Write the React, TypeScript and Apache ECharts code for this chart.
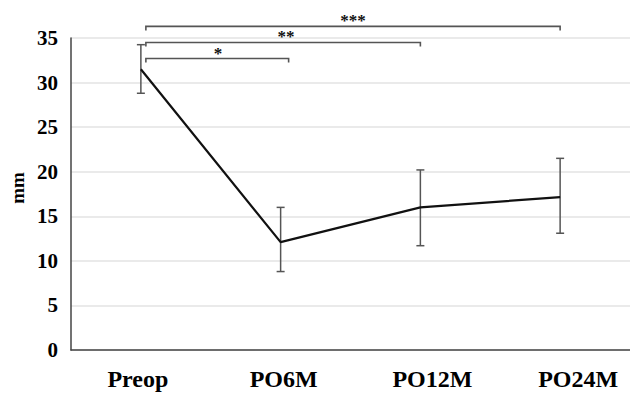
import React, { useEffect, useRef } from "react";
import * as echarts from "echarts";

const categories = ["Preop", "PO6M", "PO12M", "PO24M"];
const means = [31.5, 12.1, 16.0, 17.15];
const lowers = [28.8, 8.8, 11.7, 13.1];
const uppers = [34.25, 16.0, 20.2, 21.5];
const yTicks = [0, 5, 10, 15, 20, 25, 30, 35];
const bracketFrom = [0, 0, 0];
const bracketTo = [1, 2, 3];
const bracketLevels = [32.7, 34.5, 36.3];
const bracketLabels = ["*", "**", "***"];
const yAxisTitle = "mm";

const SERIF = "'Liberation Serif', 'DejaVu Serif', serif";
const labelShift = [-3, 3, 12, 18];

export default function App() {
  const ref = useRef<HTMLDivElement>(null);
  useEffect(() => {
    if (!ref.current) return;
    const chart = echarts.init(ref.current, null, { renderer: "svg" });
    const errData = categories.map((_, i) => [i, lowers[i], uppers[i]]);
    const bracketData = bracketLevels.map((lv, i) => [bracketFrom[i], bracketTo[i], lv, i]);
    const rich: any = {};
    labelShift.forEach((s, i) => {
      rich["c" + i] = {
        fontFamily: SERIF,
        fontWeight: "bold",
        fontSize: 24,
        color: "#000",
        padding: s >= 0 ? [0, 0, 0, 2 * s] : [0, -2 * s, 0, 0],
      };
    });
    chart.setOption({
      animation: false,
      backgroundColor: "#ffffff",
      grid: { left: 71, top: 38, bottom: 43, width: 568, containLabel: false },
      graphic: [
        {
          type: "text",
          x: 17,
          y: 188,
          rotation: Math.PI / 2,
          style: {
            text: yAxisTitle,
            fill: "#000",
            font: `bold 19px ${SERIF}`,
            align: "center",
            verticalAlign: "middle",
          },
        },
      ],
      xAxis: {
        type: "category",
        data: categories,
        boundaryGap: true,
        axisLine: { show: true, lineStyle: { color: "#444", width: 1.5 } },
        axisTick: { show: false },
        axisLabel: {
          interval: 0,
          hideOverlap: false,
          color: "#000",
          fontFamily: SERIF,
          fontWeight: "bold",
          fontSize: 24,
          margin: 17,
          formatter: (v: string, i: number) => `{c${i}|${v}}`,
          rich,
        },
        splitLine: { show: false },
      },
      yAxis: {
        type: "value",
        min: 0,
        max: 35,
        interval: 5,
        axisLine: { show: true, lineStyle: { color: "#444", width: 1.5 } },
        axisTick: { show: false },
        axisLabel: {
          color: "#000",
          fontFamily: SERIF,
          fontWeight: "bold",
          fontSize: 21,
          margin: 13,
          formatter: (v: number) => (yTicks.includes(v) ? String(v) : ""),
        },
        splitLine: { show: true, lineStyle: { color: "#e3e3e3", width: 1.5 } },
      },
      series: [
        {
          type: "line",
          data: means,
          symbol: "none",
          lineStyle: { color: "#111", width: 2.2 },
          z: 3,
        },
        {
          type: "custom",
          data: errData,
          clip: false,
          z: 2,
          renderItem: (params: any, api: any) => {
            const x = api.value(0);
            const lo = api.coord([x, api.value(1)]);
            const hi = api.coord([x, api.value(2)]);
            const cap = 4;
            const style = { stroke: "#555", lineWidth: 1.5 };
            return {
              type: "group",
              children: [
                { type: "line", shape: { x1: lo[0], y1: lo[1], x2: hi[0], y2: hi[1] }, style },
                { type: "line", shape: { x1: lo[0] - cap, y1: lo[1], x2: lo[0] + cap, y2: lo[1] }, style },
                { type: "line", shape: { x1: hi[0] - cap, y1: hi[1], x2: hi[0] + cap, y2: hi[1] }, style },
              ],
            };
          },
        },
        {
          type: "custom",
          data: bracketData,
          clip: false,
          z: 4,
          renderItem: (params: any, api: any) => {
            const i = api.value(3);
            const a = api.coord([api.value(0), api.value(2)]);
            const b = api.coord([api.value(1), api.value(2)]);
            const x1 = a[0] + 5;
            const x2 = b[0] + (i === 0 ? 8 : 0);
            const y = a[1];
            const drop = 4;
            const style = { stroke: "#555", lineWidth: 1.6, fill: null };
            const labelX = [218, 286, 353][i];
            return {
              type: "group",
              children: [
                {
                  type: "polyline",
                  shape: { points: [[x1, y + drop], [x1, y], [x2, y], [x2, y + drop]] },
                  style,
                },
                {
                  type: "text",
                  x: labelX,
                  y: y + 3,
                  style: {
                    text: bracketLabels[i],
                    fill: "#111",
                    font: `bold 17px ${SERIF}`,
                    align: "center",
                    verticalAlign: "bottom",
                  },
                },
              ],
            };
          },
        },
      ],
    });
    return () => chart.dispose();
  }, []);
  return <div ref={ref} style={{ width: 630, height: 393, position: "absolute", left: 0, top: 0 }} />;
}
